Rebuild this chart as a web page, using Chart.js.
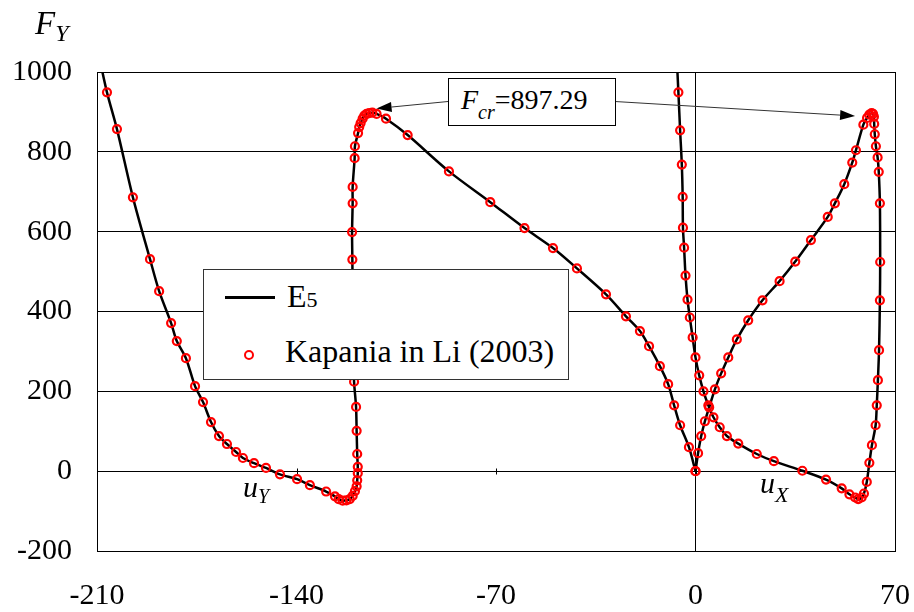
<!DOCTYPE html>
<html>
<head>
<meta charset="utf-8">
<script src="https://cdn.jsdelivr.net/npm/chart.js@4.4.0/dist/chart.umd.min.js"></script>
<style>
  html, body { margin: 0; padding: 0; background: #fff; }
  #wrap { position: relative; width: 914px; height: 612px; overflow: hidden; }
  #c { position: absolute; left: 0; top: 0; }
  .t { position: absolute; font-family: "Liberation Serif", "Times New Roman", serif; color: #000; line-height: 1; white-space: nowrap; }
  .i { font-style: italic; }
  #box { position: absolute; left: 448px; top: 78px; width: 166px; height: 46px; border: 1px solid #000; background: #fff; }
  #legend { position: absolute; left: 203px; top: 269px; width: 364px; height: 109px; border: 1px solid #333; background: #fff; }
</style>
</head>
<body>
<div id="wrap">
  <canvas id="c" width="914" height="612"></canvas>

  <div class="t" style="left:35px; top:7px; font-size:33px;"><span class="i">F</span><span class="i" style="font-size:24px; position:relative; top:7px;">Y</span></div>
  <div class="t" style="left:243px; top:472px; font-size:30px;"><span class="i">u</span><span class="i" style="font-size:20px; position:relative; top:6px;">Y</span></div>
  <div class="t" style="left:760px; top:468px; font-size:30px;"><span class="i">u</span><span class="i" style="font-size:22px; position:relative; top:9px;">X</span></div>

  <div id="box"></div>
  <div class="t" style="left:461px; top:86px; font-size:28px;"><span class="i">F</span><span class="i" style="font-size:20px; position:relative; top:10px;">cr</span>=897.29</div>

  <div id="legend"></div>
  <div style="position:absolute; left:225px; top:296px; width:50px; height:2.5px; background:#000;"></div>
  <div class="t" style="left:287px; top:280px; font-size:32px;">E<span style="font-size:22px;">5</span></div>
  <div style="position:absolute; left:244px; top:350px; width:6px; height:6px; border:2px solid #ff0000; border-radius:50%;"></div>
  <div class="t" style="left:285px; top:335px; font-size:32px;">Kapania in Li (2003)</div>
</div>

<script>
const SERIF = '"Liberation Serif", "Times New Roman", serif';

// ---- Data ----
const xTicks = [-210, -140, -70, 0, 70];
const yTicks = [-200, 0, 200, 400, 600, 800, 1000];
const Fcr = 897.29;

// Kapania in Li (2003): u_Y path
const kapUY_u = [0,-2.3,-5.4,-7.5,-9.6,-12.5,-16.3,-19.5,-24.4,-31.4,-41.6,-50,-60,-72,-86.5,-101,-108.6,-111.9,-113.4,-114.5,-115.4,-116.2,-116.8,-117.5,-118,-118.4,-119.5,-119.6,-120.3,-120.3,-120.5,-120.4,-120.3,-120.1,-120,-119.8,-119.1,-118.9,-118.7,-118.5,-118.5,-118.7,-118.9,-119.5,-120.3,-121.3,-122.5,-123.8,-125.2,-126.5,-129.6,-135.3,-139.8,-145.8,-150.7,-154.9,-158.8,-161.2,-164.4,-167.2,-170,-172.8,-175.6,-178.8,-182,-184,-188.2,-191.4,-197.4,-203,-206.5];
const kapUY_F = [0,60,115,165,218,263,313,351,388,443,508,559,609,674,751,842,883,895,898,897,895,891,883,872,862,847,814,784,712,671,599,530,450,370,295,224,161,101,43,11,-5,-23,-38,-50,-62,-70,-73,-74,-70,-63,-51,-35,-20,-8,8,20,33,48,68,88,123,173,213,283,326,371,451,531,686,857,949];

// Kapania in Li (2003): u_X path
const kapUX_u = [0,0.9,2,3.3,4.8,6.8,9,11.5,14.5,18.5,23.5,29.5,35,40.5,46.4,48.9,52.2,55,56.3,58.9,60.2,61,61.8,62.3,62.6,62.7,62.9,63.3,63.9,64.3,64.7,64.8,64.7,64.4,64,63.6,63.2,61.9,61,60.1,59.1,58.3,57.1,56,54,51.3,45.8,37.5,27.5,21.5,15,11,8.5,6.3,4.5,2.8,1.3,0,-1,-2,-2.8,-3.5,-4,-4.4,-4.5,-4.8,-5.4,-6];
const kapUX_F = [0,45,88,125,160,205,245,285,330,378,428,476,525,579,637,671,719,773,804,868,885,893,897,895,888,870,844,814,786,750,671,524,428,303,228,165,115,65,21,-27,-56,-66,-70,-66,-58,-43,-21,1,25,43,69,88,110,135,165,200,240,285,335,385,430,490,560,610,687,768,854,949];

// E5 curve beyond the last marker (leaves the top of the plot)
const e5EndUY = { u: -209.3, F: 1040 };
const e5EndUX = { u: -6.6, F: 1040 };

// ---- build datasets ----
const pts = (us, fs) => us.map((u, k) => ({ x: u, y: fs[k] }));
const e5UY = pts(kapUY_u, kapUY_F).concat([{ x: e5EndUY.u, y: e5EndUY.F }]);
const e5UX = pts(kapUX_u, kapUX_F).concat([{ x: e5EndUX.u, y: e5EndUX.F }]);

const lineDs = (data) => ({
  type: 'scatter', data, showLine: true, borderColor: '#000', borderWidth: 2.5,
  pointRadius: 0, tension: 0.3, order: 2, clip: 0
});
const markDs = (data) => ({
  type: 'scatter', data, showLine: false, pointRadius: 4, pointBorderWidth: 2.2,
  pointBorderColor: '#ff0000', pointBackgroundColor: 'rgba(0,0,0,0)', order: 1
});

const framePlugin = {
  id: 'frame',
  beforeDatasetsDraw(chart) {
    const { ctx, chartArea: a, scales } = chart;
    ctx.save();
    ctx.strokeStyle = '#000';
    ctx.lineWidth = 1;
    ctx.strokeRect(Math.round(a.left) + 0.5, Math.round(a.top) + 0.5, Math.round(a.right - a.left), Math.round(a.bottom - a.top));
    const y0 = Math.round(scales.y.getPixelForValue(0)) + 0.5;
    xTicks.forEach(v => {
      const x = Math.round(scales.x.getPixelForValue(v)) + 0.5;
      ctx.beginPath(); ctx.moveTo(x, y0 - 3); ctx.lineTo(x, y0 + 3); ctx.stroke();
    });
    ctx.restore();
  },
  afterDraw(chart) {
    const { ctx, scales } = chart;
    const arrow = (x1, y1, x2, y2) => {
      ctx.save();
      ctx.strokeStyle = '#333'; ctx.fillStyle = '#000'; ctx.lineWidth = 1;
      const ang = Math.atan2(y2 - y1, x2 - x1);
      const L = 15, W = 5;
      const bx = x2 - L * Math.cos(ang), by = y2 - L * Math.sin(ang);
      ctx.beginPath(); ctx.moveTo(x1, y1); ctx.lineTo(bx, by); ctx.stroke();
      ctx.beginPath();
      ctx.moveTo(x2, y2);
      ctx.lineTo(bx + W * Math.sin(ang), by - W * Math.cos(ang));
      ctx.lineTo(bx - W * Math.sin(ang), by + W * Math.cos(ang));
      ctx.closePath(); ctx.fill();
      ctx.restore();
    };
    const X = v => scales.x.getPixelForValue(v), Y = v => scales.y.getPixelForValue(v);
    arrow(448, 101.5, X(-111.9), Y(Fcr) - 4.5);
    arrow(615, 101.5, X(56), Y(Fcr) + 3);
  }
};

const chart = new Chart(document.getElementById('c'), {
  type: 'scatter',
  data: {
    datasets: [
      lineDs(e5UY), lineDs(e5UX),
      markDs(pts(kapUY_u, kapUY_F)), markDs(pts(kapUX_u, kapUX_F))
    ]
  },
  options: {
    responsive: false, animation: false, devicePixelRatio: 1,
    layout: { padding: { top: 72, right: 19, left: 0, bottom: 0 } },
    plugins: { legend: { display: false }, tooltip: { enabled: false } },
    scales: {
      x: {
        type: 'linear', min: -210, max: 70,
        afterBuildTicks: s => { s.ticks = xTicks.map(v => ({ value: v })); },
        afterFit: s => { s.height = 61; s.paddingLeft = 0; s.paddingRight = 0; },
        ticks: { color: '#000', font: { family: SERIF, size: 30 }, padding: 27, maxRotation: 0, autoSkip: false, callback: v => String(v) },
        grid: { color: c => (c.tick && c.tick.value === 0) ? '#000' : 'rgba(0,0,0,0)', lineWidth: 1, drawTicks: false },
        border: { display: false }
      },
      y: {
        type: 'linear', min: -200, max: 1000,
        afterBuildTicks: s => { s.ticks = yTicks.map(v => ({ value: v })); },
        afterFit: s => { s.width = 97; s.paddingTop = 0; s.paddingBottom = 0; },
        ticks: { color: '#000', font: { family: SERIF, size: 30 }, padding: 25, autoSkip: false, callback: v => String(v) },
        grid: { color: '#000', lineWidth: 1, drawTicks: false },
        border: { display: false }
      }
    }
  },
  plugins: [framePlugin]
});

// place the plot area on the reference frame (-210..70 -> 97..895 px, 1000..-200 -> 72..551 px)
for (let k = 0; k < 3; k++) {
  const p = chart.options.layout.padding;
  const xs = chart.scales.x, ys = chart.scales.y;
  p.left += 97 - xs.getPixelForValue(-210);
  p.right += xs.getPixelForValue(70) - 895;
  p.top += 72 - ys.getPixelForValue(1000);
  p.bottom += ys.getPixelForValue(-200) - 551;
  chart.update();
}
</script>
</body>
</html>
